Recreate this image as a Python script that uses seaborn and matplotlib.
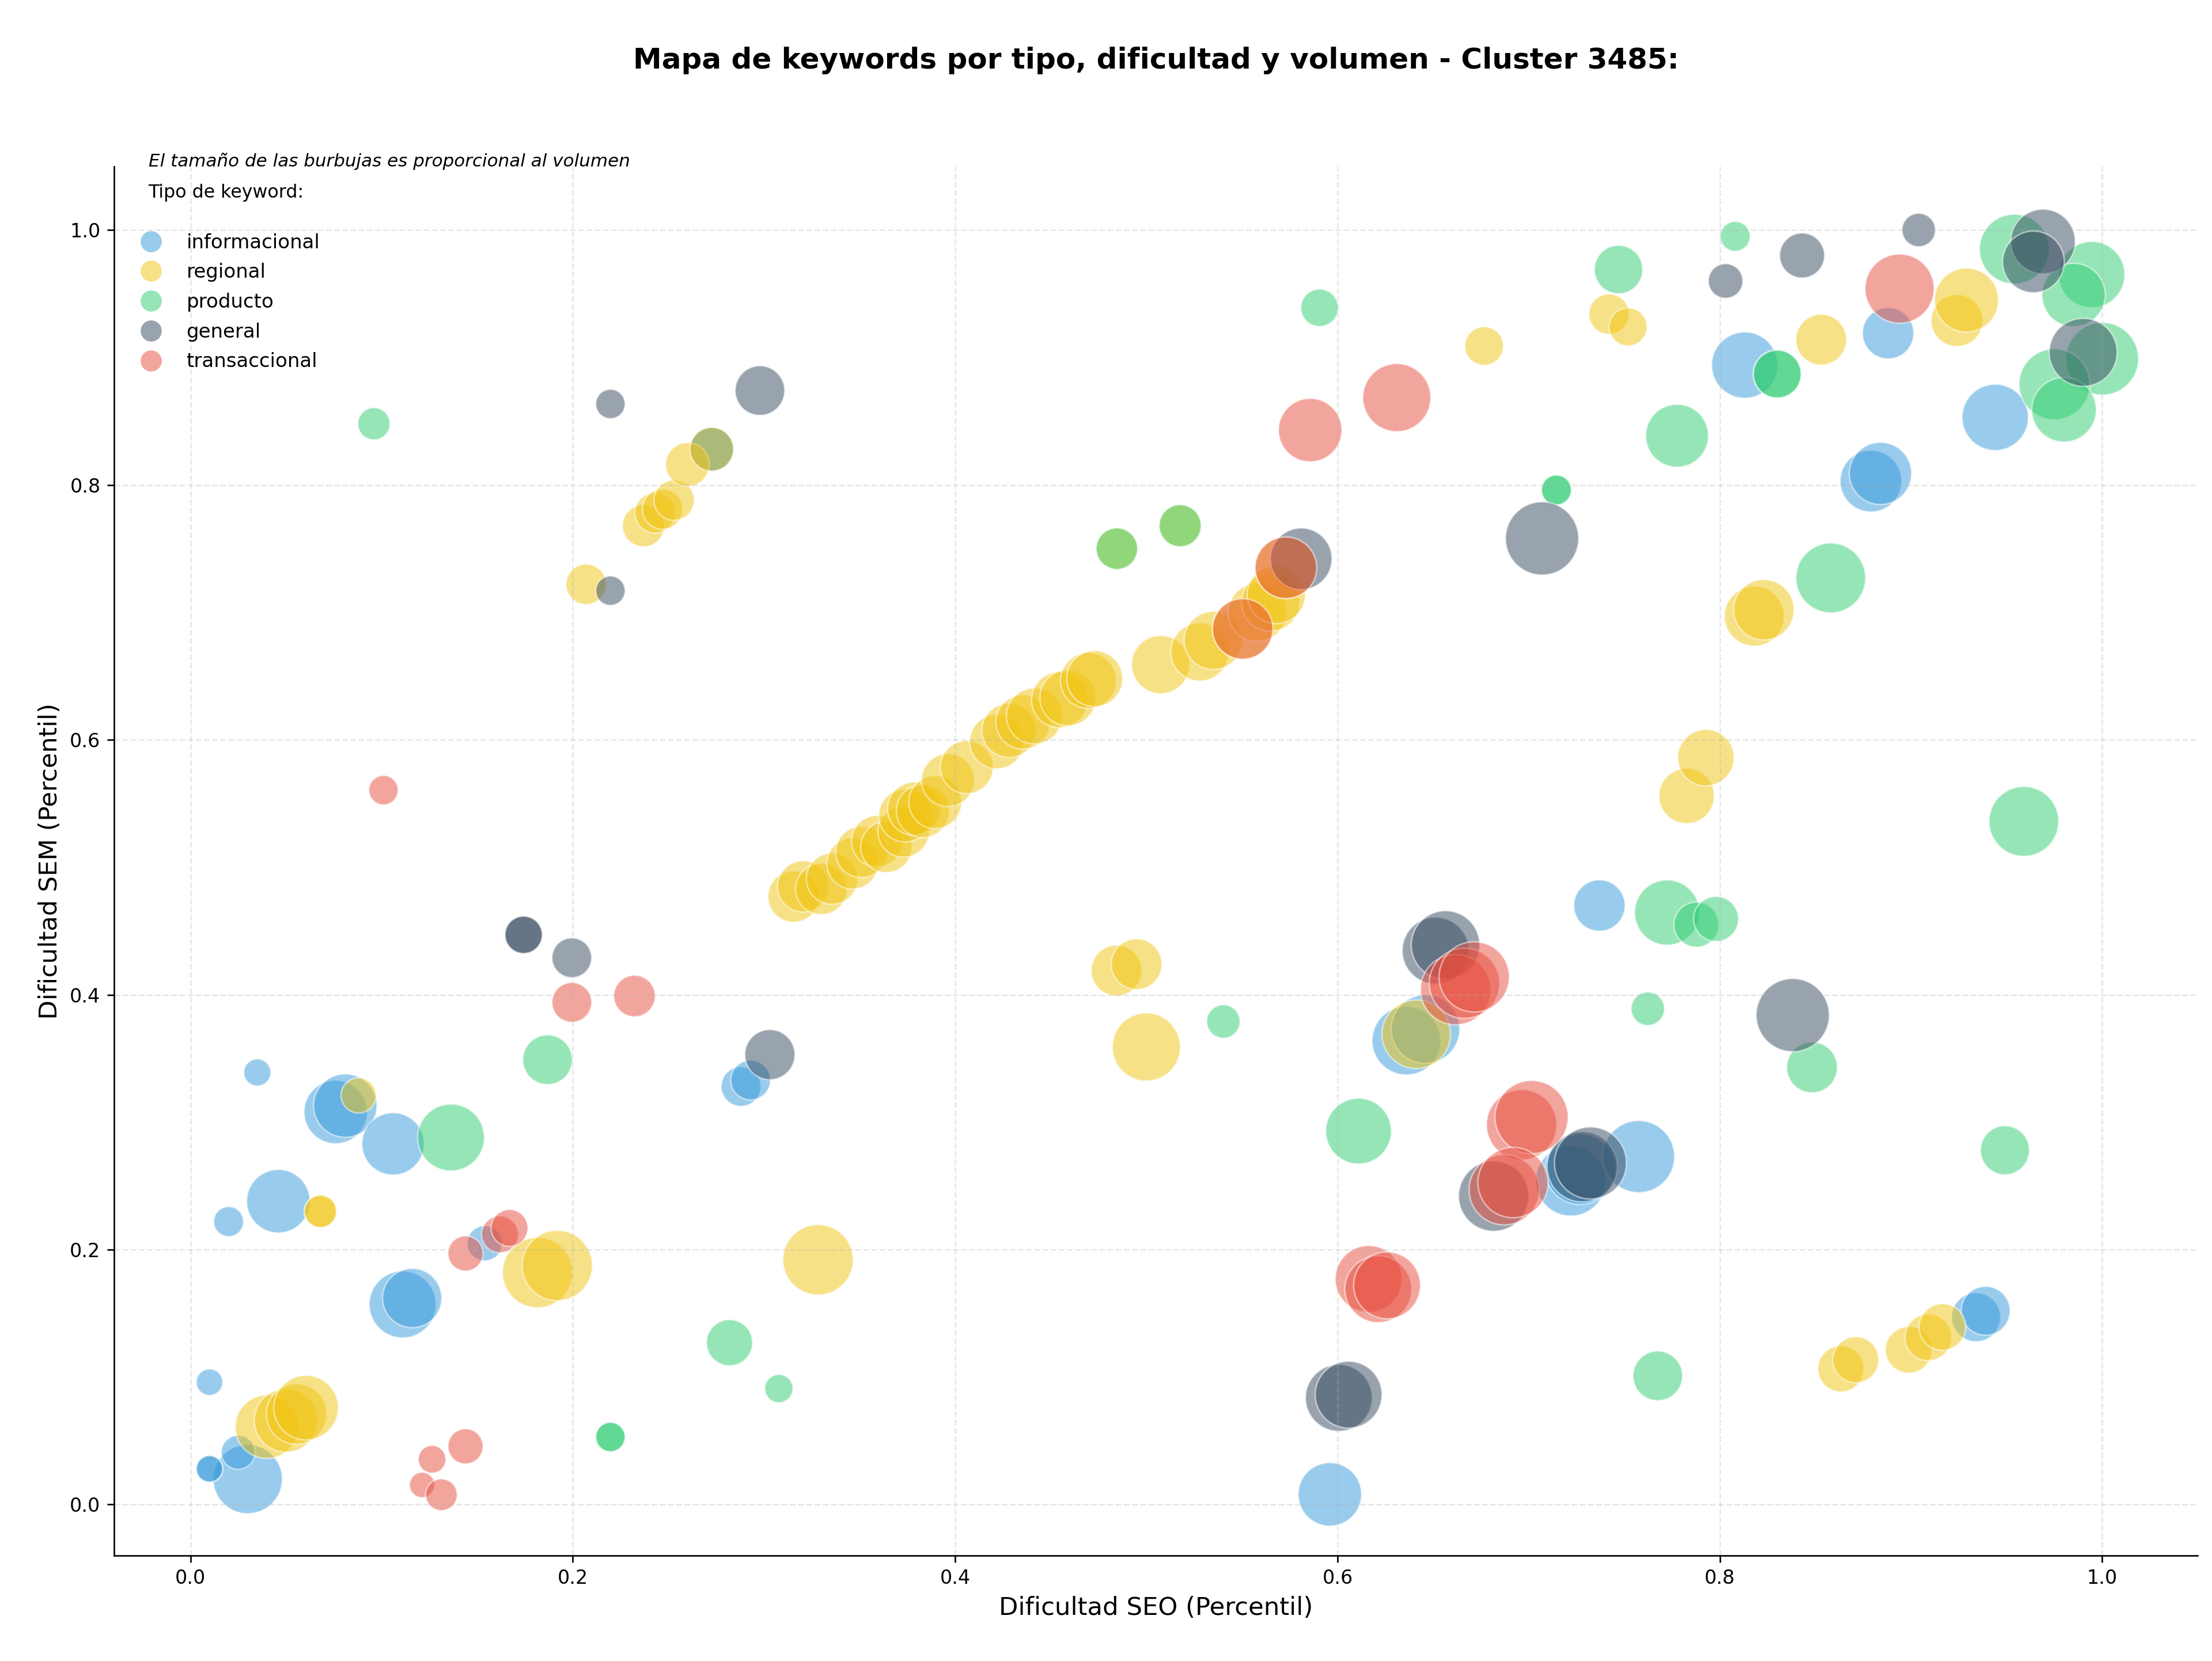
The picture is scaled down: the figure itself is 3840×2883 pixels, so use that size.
import matplotlib.pyplot as plt
import seaborn as sns
import pandas as pd
from matplotlib.lines import Line2D

# Tipos de keyword y colores
tipos = ['informacional', 'regional', 'producto', 'general', 'transaccional']
colores = ['#3498DB', '#F1C40F', '#2ECC71', '#34495E', '#E74C3C']

# informacional
info_seo = [0.010, 0.020, 0.035, 0.046, 0.030, 0.025, 0.010, 0.010, 0.076, 0.081,
            0.106, 0.111, 0.116, 0.154, 0.288, 0.293, 0.596, 0.636, 0.646, 0.722,
            0.727, 0.7575, 0.737, 0.813, 0.879, 0.884, 0.888, 0.944, 0.934, 0.939,
            0.2727, 0.2727]
info_sem = [0.096, 0.222, 0.339, 0.238, 0.020, 0.041, 0.028, 0.028, 0.308, 0.313,
            0.283, 0.157, 0.162, 0.205, 0.328, 0.333, 0.008, 0.364, 0.373, 0.254,
            0.263, 0.273, 0.470, 0.894, 0.803, 0.809, 0.919, 0.853, 0.147, 0.152,
            0.828, 0.828]
info_vol = [190, 243, 199, 1089, 1296, 313, 190, 190, 1089, 1089,
            1050, 1211, 950, 335, 428, 428, 1089, 1275, 1275, 1340,
            1340, 1406, 713, 1190, 1030, 1050, 713, 1190, 650, 650,
            520, 520]

# regional
reg_seo = [0.088, 0.068, 0.068, 0.040, 0.050, 0.0555, 0.0605, 0.1816, 0.1919, 0.3283,
           0.207, 0.237, 0.243, 0.247, 0.253, 0.260, 0.2727,
           0.3155, 0.3205, 0.3300, 0.3356, 0.3463, 0.3509, 0.3592, 0.3640, 0.373, 0.3739,
           0.3785, 0.3831, 0.3896, 0.3962, 0.4061, 0.4218, 0.4282, 0.4355, 0.4415, 0.4546,
           0.4590, 0.4697, 0.4730, 0.5075, 0.528, 0.535, 0.5504, 0.558, 0.565, 0.568, 0.573,
           0.4844, 0.4949, 0.500, 0.6412, 0.6767, 0.742, 0.752, 0.7826, 0.7927, 0.818,
           0.823, 0.853, 0.924, 0.929, 0.8633, 0.8711, 0.8988, 0.909, 0.9164, 0.4846, 0.5177]
reg_sem = [0.321, 0.230, 0.230, 0.061, 0.066, 0.071, 0.076, 0.182, 0.1875, 0.192,
           0.722, 0.768, 0.778, 0.781, 0.788, 0.816, 0.828,
           0.477, 0.485, 0.483, 0.491, 0.503, 0.512, 0.5205, 0.516, 0.528, 0.5406,
           0.546, 0.5441, 0.5511, 0.5684, 0.5786, 0.5986, 0.6074, 0.614, 0.6187, 0.6314,
           0.633, 0.6465, 0.648, 0.659, 0.669, 0.678, 0.687, 0.700, 0.708, 0.714, 0.735,
           0.419, 0.424, 0.359, 0.369, 0.909, 0.934, 0.924, 0.556, 0.586, 0.697,
           0.702, 0.914, 0.929, 0.945, 0.1065, 0.1136, 0.1214, 0.1312, 0.1393, 0.750, 0.768]
reg_vol = [335, 282, 282, 1089, 1089, 990, 1130, 1340, 1340, 1340,
           441, 480, 441, 441, 441, 520, 520,
           713, 713, 713, 713, 713, 713, 713, 713, 713, 760,
           760, 760, 760, 760, 760, 800, 800, 800, 850, 850,
           850, 850, 850, 918, 918, 918, 992, 918, 918, 918, 1030,
           697, 697, 1253, 1275, 404, 441, 392, 829, 864, 973,
           992, 697, 729, 1109, 576, 576, 590, 590, 590, 467, 480]

# producto
prod_seo = [0.096, 0.1363, 0.1868, 0.2197, 0.2197, 0.282, 0.3078, 0.4846, 0.5177, 0.5403,
            0.5906, 0.611, 0.7145, 0.7145, 0.747, 0.7623, 0.7675, 0.7724, 0.7776, 0.7877,
            0.798, 0.808, 0.830, 0.830, 0.8482, 0.858, 0.9491, 0.959, 0.954, 0.9945,
            0.985, 1.000, 0.975, 0.980]
prod_sem = [0.848, 0.288, 0.349, 0.053, 0.053, 0.127, 0.091, 0.750, 0.768, 0.379,
            0.939, 0.293, 0.796, 0.796, 0.969, 0.389, 0.101, 0.4645, 0.8386, 0.455,
            0.4595, 0.995, 0.887, 0.887, 0.343, 0.727, 0.278, 0.536, 0.985, 0.965,
            0.949, 0.899, 0.879, 0.859]
prod_vol = [282, 1211, 666, 234, 234, 576, 216, 467, 480, 303,
            380, 1170, 243, 243, 635, 303, 666, 1149, 1069, 548,
            548, 243, 620, 620, 697, 1318, 650, 1318, 1318, 1190,
            1089, 1429, 1362, 1129]

# general
gen_seo = [0.1743, 0.1743, 0.1995, 0.2197, 0.2197, 0.2979, 0.3031, 0.581, 0.6513, 0.6565,
           0.707, 0.6817, 0.728, 0.7323, 0.6007, 0.6058, 0.803, 0.843, 0.904, 0.969,
           0.964, 0.990, 0.8381]
gen_sem = [0.447, 0.447, 0.429, 0.8635, 0.717, 0.874, 0.353, 0.742, 0.4346, 0.439,
           0.758, 0.242, 0.265, 0.268, 0.0837, 0.0862, 0.960, 0.980, 1.000, 0.991,
           0.975, 0.904, 0.384]
gen_vol = [380, 380, 428, 234, 234, 666, 681, 1030, 1211, 1275,
           1452, 1340, 1340, 1406, 1211, 1211, 324, 548, 303, 1129,
           1030, 1253, 1452]

# transaccional
trans_seo = [0.101, 0.1995, 0.2323, 0.1439, 0.1619, 0.1669, 0.1264, 0.1439, 0.1212, 0.1313,
             0.5504, 0.573, 0.5857, 0.631, 0.894, 0.6618, 0.6664, 0.6715, 0.6963, 0.7015,
             0.6872, 0.6918, 0.6163, 0.6213, 0.6259]
trans_sem = [0.5605, 0.394, 0.399, 0.197, 0.212, 0.217, 0.0355, 0.0457, 0.0154, 0.0077,
             0.687, 0.735, 0.843, 0.8685, 0.954, 0.404, 0.409, 0.414, 0.298, 0.304,
             0.247, 0.2526, 0.177, 0.169, 0.172]
trans_vol = [234, 428, 467, 335, 369, 369, 207, 335, 174, 272,
             992, 1030, 1089, 1253, 1296, 1340, 1340, 1340, 1340, 1452,
             1340, 1340, 1211, 1211, 1211]

# Armar el DataFrame (el orden de tipos define el orden de dibujo)
series = [(info_seo, info_sem, info_vol), (reg_seo, reg_sem, reg_vol),
          (prod_seo, prod_sem, prod_vol), (gen_seo, gen_sem, gen_vol),
          (trans_seo, trans_sem, trans_vol)]
frames = []
for tipo, (seo, sem, vol) in zip(tipos, series):
    frames.append(pd.DataFrame({'seo': seo, 'sem': sem, 'volumen': vol, 'tipo': tipo}))
df = pd.concat(frames, ignore_index=True)

fig, ax = plt.subplots(figsize=(16, 12.0125), dpi=240)
fig.subplots_adjust(left=0.0515, right=0.9936, top=0.8999, bottom=0.0635)

sns.scatterplot(data=df, x='seo', y='sem', hue='tipo', hue_order=tipos,
                palette=dict(zip(tipos, colores)), size='volumen',
                sizes=(0, 1500), size_norm=(0, 1500), alpha=0.5,
                edgecolor='white', linewidth=0.8, legend=False, ax=ax)

ax.set_xlim(-0.04, 1.05)
ax.set_ylim(-0.04, 1.05)
ax.grid(True, linestyle='--', alpha=0.3)
sns.despine(ax=ax)

ax.set_xlabel('Dificultad SEO (Percentil)', fontsize=13)
ax.set_ylabel('Dificultad SEM (Percentil)', fontsize=13)
ax.set_title('Mapa de keywords por tipo, dificultad y volumen - Cluster 3485:',
             fontsize=15, fontweight='bold', pad=51)

ax.text(0.0166, 1.0, 'El tamaño de las burbujas es proporcional al volumen',
        transform=ax.transAxes, fontsize=9.3, style='italic', va='baseline')

handles = [Line2D([0], [0], marker='o', linestyle='', markersize=11,
                  markerfacecolor=c, markeredgewidth=0, alpha=0.5) for c in colores]
leg = ax.legend(handles, tipos, loc='upper left', frameon=False, fontsize=10.2,
                labelspacing=0.55, title='Tipo de keyword:\n', title_fontsize=9.5)

fig.savefig('out.png', dpi=240)
